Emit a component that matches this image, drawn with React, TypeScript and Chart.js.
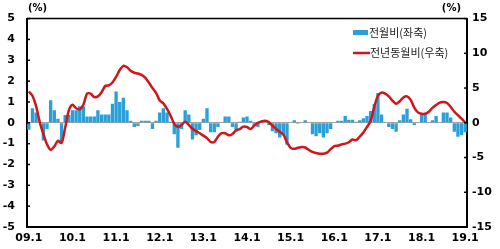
import React, { useEffect, useRef } from 'react';
import { Chart, registerables } from 'chart.js';

Chart.register(...registerables);

// Category labels: monthly from 09.1 to 19.1
const years = ['09', '10', '11', '12', '13', '14', '15', '16', '17', '18', '19'];
const monthLabels: string[] = [];
for (const y of years) {
  for (let m = 1; m <= 12; m++) {
    if (y === '19' && m > 1) break;
    monthLabels.push(`${y}.${m}`);
  }
}

// 전월비 (left axis, %)
const momValues = [
  -0.33, 0.7, 0.5, 0.05, -0.85, -0.3, 1.08, 0.6, 0.2, -0.9, 0.38, 0.38,
  0.6, 0.6, 0.8, 0.8, 0.3, 0.3, 0.3, 0.6, 0.4, 0.4, 0.4, 0.92,
  1.5, 1.0, 1.2, 0.6, 0.1, -0.2, -0.15, 0.1, 0.1, 0.1, -0.3, 0.1,
  0.5, 0.7, 0.5, 0.05, -0.55, -1.2, -0.3, 0.6, 0.4, -0.8, -0.6, -0.35,
  0.2, 0.7, -0.45, -0.45, -0.2, 0.0, 0.3, 0.3, -0.2, -0.4, 0.05, 0.25,
  0.3, 0.1, -0.15, -0.2, 0.02, 0.0, -0.1, -0.4, -0.5, -0.7, -0.6, -1.05,
  0.0, 0.12, -0.05, 0.0, 0.12, 0.0, -0.55, -0.65, -0.5, -0.7, -0.5, -0.3,
  0.0, 0.1, 0.1, 0.33, 0.15, 0.15, 0.05, 0.12, 0.22, 0.33, 0.57, 0.9,
  1.43, 0.4, 0.0, -0.2, -0.3, -0.43, 0.12, 0.4, 0.68, 0.17, -0.1, 0.0,
  0.4, 0.4, 0.0, 0.12, 0.33, 0.0, 0.5, 0.5, 0.25, -0.43, -0.67, -0.6,
  -0.45,
];

// 전년동월비 (right axis, %)
const yoyValues = [
  4.5, 3.9, 2.4, 0.1, -1.6, -3.1, -3.9, -3.4, -2.6, -2.9, -0.7, 1.8,
  2.6, 2.1, 1.95, 2.6, 4.2, 4.2, 3.7, 3.8, 4.4, 5.3, 5.4, 5.8,
  6.6, 7.6, 8.2, 8.0, 7.5, 7.2, 7.1, 6.9, 6.5, 5.8, 5.0, 4.3,
  3.2, 2.8, 2.0, 1.0, -0.15, -0.6, -0.3, 0.15, -0.3, -0.85, -1.2, -1.5,
  -1.85, -2.2, -2.75, -2.75, -2.0, -1.5, -1.5, -1.8, -1.6, -1.1, -0.9, -0.55,
  -0.6, -0.9, -0.4, 0.0, 0.2, 0.3, 0.1, -0.4, -0.85, -1.3, -1.7, -2.8,
  -3.6, -3.75, -3.6, -3.5, -3.55, -3.9, -4.2, -4.35, -4.45, -4.45, -4.3, -3.8,
  -3.35, -3.3, -3.1, -3.0, -2.8, -2.4, -2.5, -2.0, -1.4, -0.6, 0.3, 2.3,
  3.9, 4.35, 4.2, 3.8, 3.2, 2.75, 3.1, 3.65, 3.8, 3.3, 2.2, 1.5,
  1.3, 1.3, 1.6, 2.15, 2.55, 2.9, 3.0, 2.85, 2.3, 1.6, 1.1, 0.6,
  0.05,
];

const leftTicks = [-5, -4, -3, -2, -1, 0, 1, 2, 3, 4, 5];
const rightTicks = [-15, -10, -5, 0, 5, 10, 15];

const seriesNames = ['전월비(좌축)', '전년동월비(우축)'];
const unitLabel = '(%)';

const BAR_COLOR = '#2a9fd8';
const LINE_COLOR = '#d0161b';
const TICK_FONT = { family: 'DejaVu Sans', size: 11, weight: 'bold' as const };

const decorPlugin = {
  id: 'decor',
  afterDraw(chart: any) {
    const { ctx, chartArea: a, scales } = chart;
    ctx.save();
    ctx.strokeStyle = '#000';
    // top frame line
    ctx.lineWidth = 1.5;
    ctx.beginPath();
    ctx.moveTo(a.left, a.top);
    ctx.lineTo(a.right, a.top);
    ctx.stroke();
    // inward tick marks
    ctx.lineWidth = 1.5;
    for (const v of leftTicks) {
      const p = scales.y.getPixelForValue(v);
      ctx.beginPath();
      ctx.moveTo(a.left, p);
      ctx.lineTo(a.left + 3, p);
      ctx.stroke();
    }
    for (const v of rightTicks) {
      const p = scales.y1.getPixelForValue(v);
      ctx.beginPath();
      ctx.moveTo(a.right, p);
      ctx.lineTo(a.right - 3, p);
      ctx.stroke();
    }
    // unit labels
    ctx.fillStyle = '#000';
    ctx.font = 'bold 10px "DejaVu Sans"';
    ctx.textBaseline = 'middle';
    ctx.textAlign = 'left';
    ctx.fillText(unitLabel, a.left + 1, 8);
    ctx.textAlign = 'right';
    ctx.fillText(unitLabel, a.right - 6, 8);
    // legend
    ctx.textAlign = 'left';
    ctx.font = '11px "Noto Sans CJK KR"';
    ctx.fillStyle = '#222';
    ctx.fillStyle = BAR_COLOR;
    ctx.fillRect(353, 30, 15, 5);
    ctx.fillStyle = '#222';
    ctx.fillText(seriesNames[0], 369, 33);
    ctx.strokeStyle = LINE_COLOR;
    ctx.lineWidth = 2.5;
    ctx.beginPath();
    ctx.moveTo(353, 53);
    ctx.lineTo(370, 53);
    ctx.stroke();
    ctx.fillText(seriesNames[1], 370, 53);
    ctx.restore();
  },
};

export default function App() {
  const canvasRef = useRef<HTMLCanvasElement | null>(null);

  useEffect(() => {
    document.body.style.margin = '0';
    const canvas = canvasRef.current;
    if (!canvas) return;
    const chart = new Chart(canvas, {
      data: {
        labels: monthLabels,
        datasets: [
          {
            type: 'line',
            label: seriesNames[1],
            data: yoyValues,
            yAxisID: 'y1',
            borderColor: LINE_COLOR,
            borderWidth: 2.5,
            pointRadius: 0,
            tension: 0.3,
            order: 1,
          },
          {
            type: 'bar',
            label: seriesNames[0],
            data: momValues,
            yAxisID: 'y',
            backgroundColor: BAR_COLOR,
            barPercentage: 0.92,
            categoryPercentage: 1,
            order: 2,
          },
        ],
      } as any,
      options: {
        animation: false,
        responsive: true,
        maintainAspectRatio: false,
        layout: { padding: { top: 16, left: 0, right: 0, bottom: 0 } },
        plugins: { legend: { display: false }, tooltip: { enabled: false } },
        scales: {
          x: {
            type: 'category',
            offset: true,
            grid: { display: false, drawTicks: false },
            border: { display: true, color: '#000', width: 2 },
            ticks: {
              autoSkip: false,
              maxRotation: 0,
              minRotation: 0,
              padding: 5,
              color: '#000',
              font: TICK_FONT,
              callback: (_v: any, i: number) => (i % 12 === 0 ? monthLabels[i] : ''),
            },
            afterFit: (s: any) => {
              s.height = 22;
            },
          },
          y: {
            position: 'left',
            min: -5,
            max: 5,
            grid: {
              drawTicks: false,
              color: (c: any) => (c.tick && c.tick.value === 0 ? 'rgba(150,150,150,0.9)' : 'rgba(0,0,0,0)'),
              lineWidth: 1,
            },
            border: { display: true, color: '#000', width: 2 },
            ticks: { stepSize: 1, padding: 12, color: '#000', font: TICK_FONT },
            afterFit: (s: any) => {
              s.width = 27;
            },
          },
          y1: {
            position: 'right',
            min: -15,
            max: 15,
            grid: { display: false, drawTicks: false },
            border: { display: true, color: '#000', width: 2 },
            ticks: { stepSize: 5, padding: 5, color: '#000', font: TICK_FONT },
            afterFit: (s: any) => {
              s.width = 33;
            },
          },
        },
      } as any,
      plugins: [decorPlugin],
    });
    return () => chart.destroy();
  }, []);

  return (
    <div style={{ position: 'relative', width: 500, height: 249, background: '#fff' }}>
      <canvas ref={canvasRef} />
    </div>
  );
}
